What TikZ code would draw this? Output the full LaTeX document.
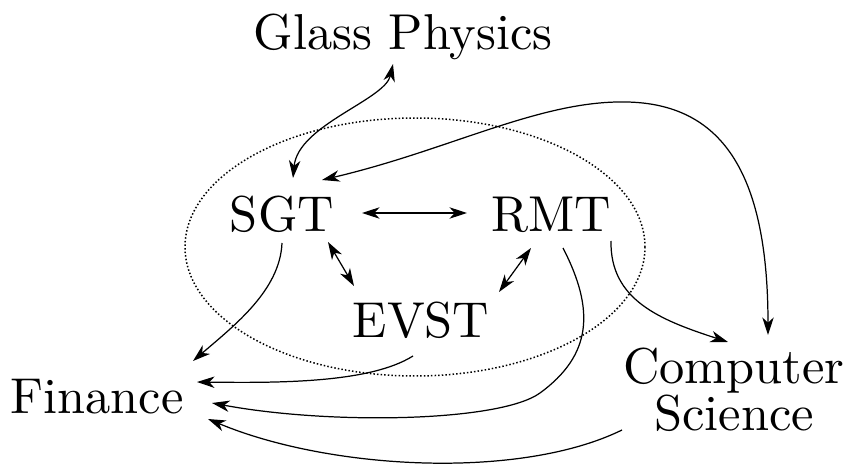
\documentclass[tikz,border=0pt]{standalone}
\usetikzlibrary{arrows.meta,calc}
\tikzset{
  >={Stealth[length=10pt,width=6.5pt,inset=3pt]},
  field/.style={font=\fontsize{10}{9.3}\selectfont,scale=2.87,inner sep=0pt,anchor=base},
  link/.style={line width=0.7pt},
  region/.style={line width=0.85pt,dash pattern=on 0.85pt off 1.2pt},
}

\begin{document}
\begin{tikzpicture}[x=0.02cm,y=-0.02cm]
  \useasboundingbox (0,0) rectangle (846,466);
  % fields
  \node[field] (gp) at (403,50) {Glass Physics};
  \node[field] (sgt) at (282,232) {SGT};
  \node[field] (rmt) at (551,232) {RMT};
  \node[field] (evst) at (421,337) {EVST};
  \node[field] (fin) at (97,413) {Finance};
  \node[field,align=center] (cs) at (734,430) {Computer\\Science};
  \draw[region] (415,247) ellipse [x radius=230,y radius=129];
  % links
  \coordinate (arc top) at (627,102);
  \coordinate (rmt low) at (540,393);
  \draw[link,<->] ($(gp.base)+(-10,14)$) .. controls +(-8,36) and +(5,-53) .. ($(sgt.base)+(11,-54)$);
  \draw[link,<->] ($(sgt.base)+(40,-52)$) .. controls +(128,-30) and +(-87,-2) .. (arc top)
    .. controls +(93,2) and +(0,-165) .. ($(cs.base)+(34,-95)$);
  \draw[link,<->] ($(sgt.base)+(80,-19)$) -- ($(rmt.base)+(-84,-19)$);
  \draw[link,<->] ($(sgt.base)+(46,10)$) -- ($(evst.base)+(-67,-51)$);
  \draw[link,<->] ($(rmt.base)+(-20,16)$) -- ($(evst.base)+(78,-45)$);
  \draw[link,->] ($(sgt.base)+(0,11)$) .. controls +(-2,47) and +(42,-36) .. ($(fin.base)+(96,-52)$);
  \draw[link,->] ($(rmt.base)+(60,9)$) .. controls +(-1,59) and +(-68,-22) .. ($(cs.base)+(-6,-88)$);
  \draw[link,->] ($(evst.base)+(-8,19)$) .. controls +(-43,27) and +(83,1) .. ($(fin.base)+(100,-31)$);
  \draw[link,->] ($(rmt.base)+(12,16)$) .. controls +(32,62) and +(52,-38) .. (rmt low)
    .. controls +(-40,29) and +(118,22) .. ($(fin.base)+(115,-10)$);
  \draw[link,->] ($(cs.base)+(-112,0)$) .. controls +(-102,50) and +(122,51) .. ($(fin.base)+(111,6)$);
\end{tikzpicture}
\end{document}
